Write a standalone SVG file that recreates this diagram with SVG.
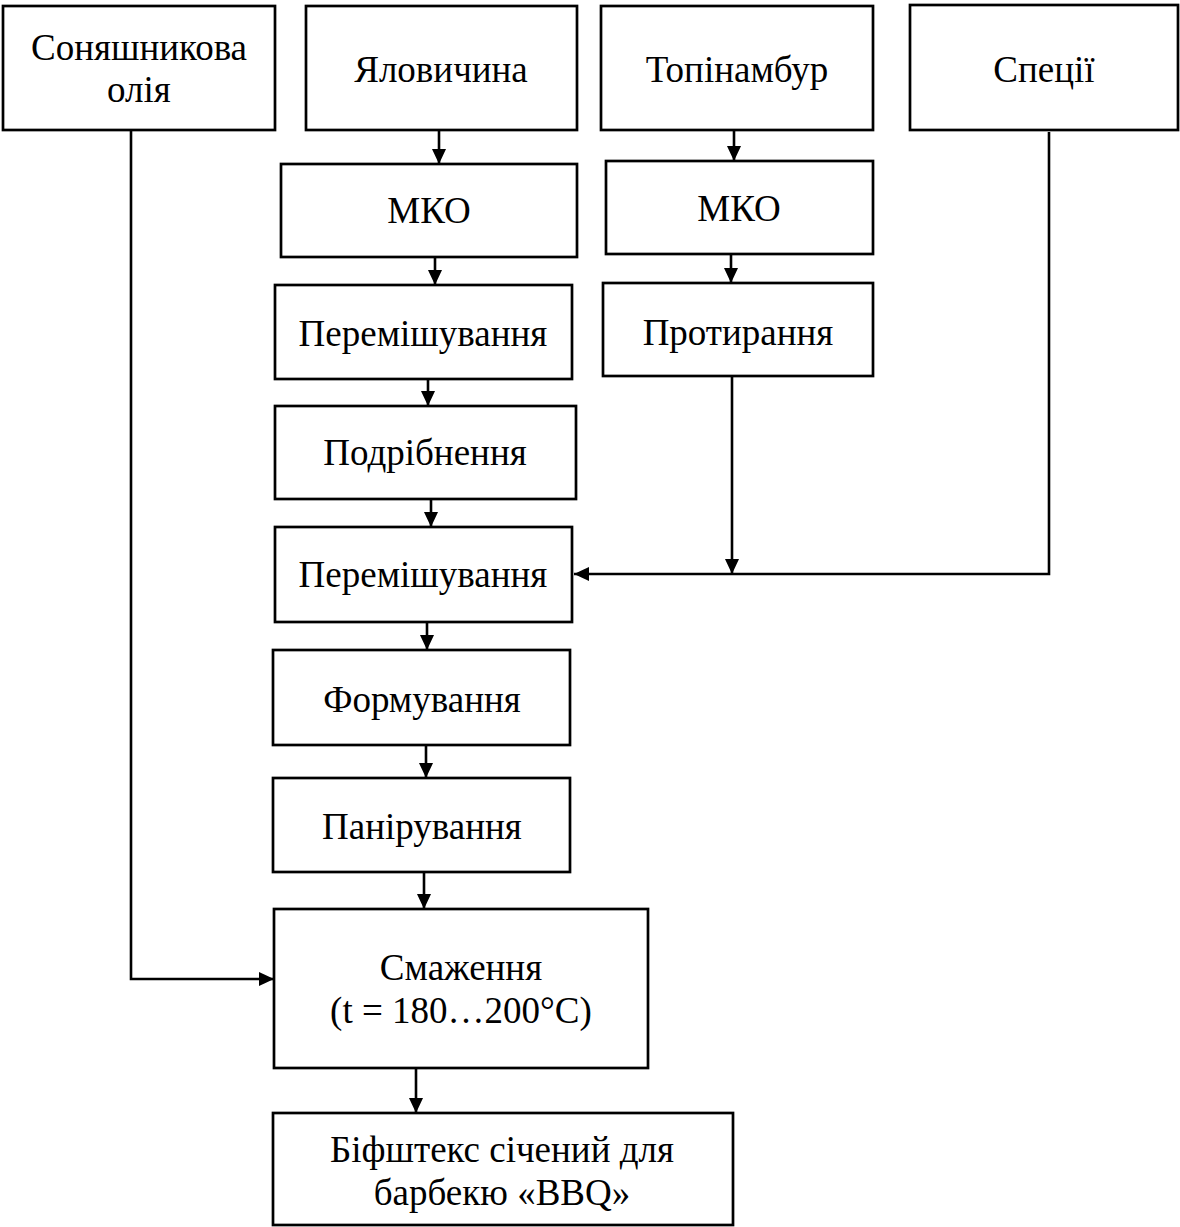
<svg xmlns="http://www.w3.org/2000/svg" width="1180" height="1227" viewBox="0 0 1180 1227">
<style>
.box{fill:#fff;stroke:#000;stroke-width:2.7}
.lbl{font-family:"Liberation Serif","Times New Roman",serif;font-size:37px;fill:#000;text-anchor:middle}
.con{fill:none;stroke:#000;stroke-width:2.6}
</style>
<defs>
<marker id="arr" markerUnits="userSpaceOnUse" markerWidth="15" markerHeight="14" viewBox="0 0 15 14" refX="15" refY="7" orient="auto">
<path d="M0,0 L15,7 L0,14 z" fill="#000"/>
</marker>
</defs>
<rect width="1180" height="1227" fill="#fff"/>
<g id="connectors">
<line class="con" x1="439" y1="130" x2="439" y2="164" marker-end="url(#arr)"/>
<line class="con" x1="435" y1="257" x2="435" y2="285" marker-end="url(#arr)"/>
<line class="con" x1="428" y1="379" x2="428" y2="406" marker-end="url(#arr)"/>
<line class="con" x1="431" y1="499" x2="431" y2="527" marker-end="url(#arr)"/>
<line class="con" x1="427" y1="622" x2="427" y2="650" marker-end="url(#arr)"/>
<line class="con" x1="426" y1="745" x2="426" y2="778" marker-end="url(#arr)"/>
<line class="con" x1="424" y1="872" x2="424" y2="909" marker-end="url(#arr)"/>
<line class="con" x1="416" y1="1068" x2="416" y2="1113" marker-end="url(#arr)"/>
<line class="con" x1="734" y1="130" x2="734" y2="161" marker-end="url(#arr)"/>
<line class="con" x1="731" y1="254" x2="731" y2="283" marker-end="url(#arr)"/>
<line class="con" x1="732" y1="376" x2="732" y2="574" marker-end="url(#arr)"/>
<path class="con" d="M1049,132 V574 H574" marker-end="url(#arr)"/>
<path class="con" d="M131,130 V979 H274" marker-end="url(#arr)"/>
</g>
<g id="oil"><rect class="box" x="3" y="6" width="272" height="124"/><text class="lbl" x="139" y="60">Соняшникова</text><text class="lbl" x="139" y="102">олія</text></g>
<g id="beef"><rect class="box" x="306" y="6" width="271" height="124"/><text class="lbl" x="441" y="82">Яловичина</text></g>
<g id="topinambur"><rect class="box" x="601" y="6" width="272" height="124"/><text class="lbl" x="737" y="82">Топінамбур</text></g>
<g id="spices"><rect class="box" x="910" y="5" width="268" height="125"/><text class="lbl" x="1044" y="82">Спеції</text></g>
<g id="mko1"><rect class="box" x="281" y="164" width="296" height="93"/><text class="lbl" x="429" y="223">МКО</text></g>
<g id="mko2"><rect class="box" x="606" y="161" width="267" height="93"/><text class="lbl" x="739" y="221">МКО</text></g>
<g id="mix1"><rect class="box" x="275" y="285" width="297" height="94"/><text class="lbl" x="423" y="346">Перемішування</text></g>
<g id="rub"><rect class="box" x="603" y="283" width="270" height="93"/><text class="lbl" x="738" y="345">Протирання</text></g>
<g id="grind"><rect class="box" x="275" y="406" width="301" height="93"/><text class="lbl" x="425" y="465">Подрібнення</text></g>
<g id="mix2"><rect class="box" x="275" y="527" width="297" height="95"/><text class="lbl" x="423" y="587">Перемішування</text></g>
<g id="form"><rect class="box" x="273" y="650" width="297" height="95"/><text class="lbl" x="422" y="712">Формування</text></g>
<g id="bread"><rect class="box" x="273" y="778" width="297" height="94"/><text class="lbl" x="422" y="839">Панірування</text></g>
<g id="fry"><rect class="box" x="274" y="909" width="374" height="159"/><text class="lbl" x="461" y="980">Смаження</text><text class="lbl" x="461" y="1023">(t = 180…200°C)</text></g>
<g id="result"><rect class="box" x="273" y="1113" width="460" height="112"/><text class="lbl" x="502" y="1162">Біфштекс січений для</text><text class="lbl" x="502" y="1205">барбекю «BBQ»</text></g>
</svg>
